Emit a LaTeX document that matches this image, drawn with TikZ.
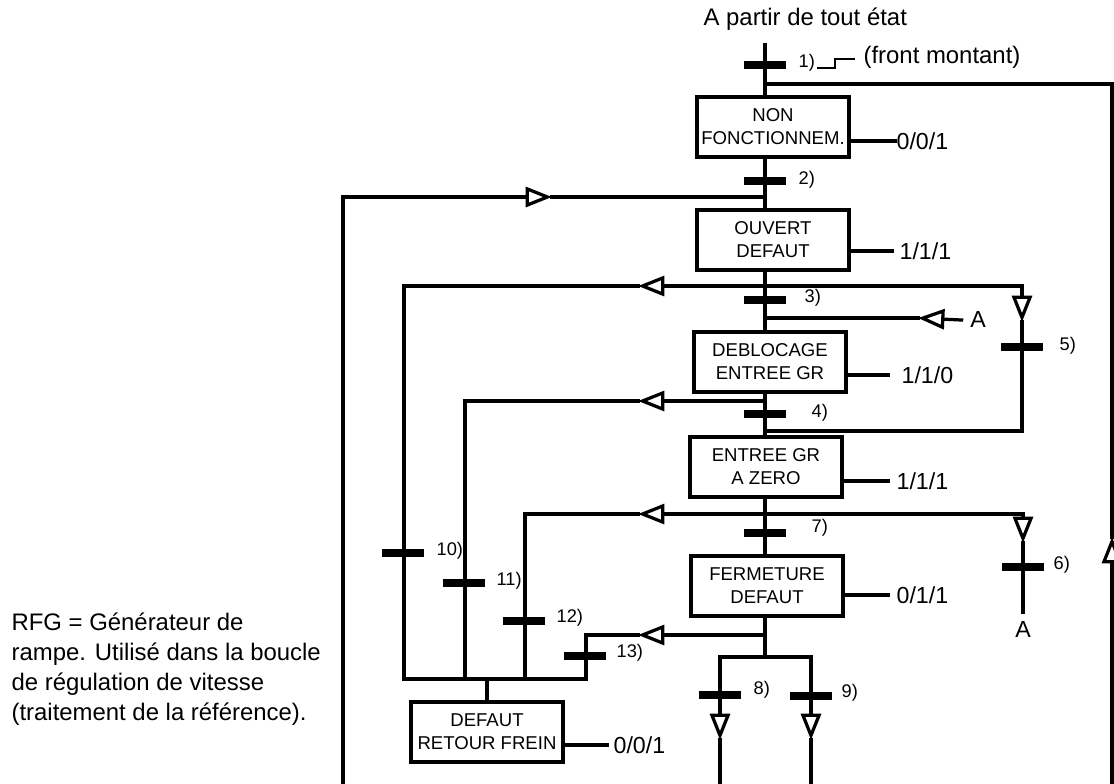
\documentclass[tikz,border=0pt]{standalone}
\usepackage{fontspec}
\setmainfont{Liberation Sans}
\usetikzlibrary{arrows.meta}

\begin{document}
\begin{tikzpicture}[x=0.025cm,y=-0.025cm,line width=2.3pt,line cap=rect,
  box/.style={draw,line width=2.3pt,minimum width=3.8cm,minimum height=1.5cm,align=center,inner sep=0pt,font=\fontsize{13.2}{16.3}\selectfont},
  bar/.style={fill=black,minimum width=1.03cm,minimum height=0.2cm,inner sep=0pt},
  lbl/.style={anchor=west,inner sep=0pt,font=\fontsize{13}{15}\selectfont},
  sortie/.style={anchor=west,inner sep=0pt,font=\fontsize{16.5}{19}\selectfont},
  big/.style={inner sep=0pt,font=\fontsize{17}{21.3}\selectfont},
  flow/.style={-{Triangle[open,length=0.66cm,width=0.5cm]}}]
\useasboundingbox (0,0) rectangle (1114,784);

% etats
\node[box] (nonf) at (773,127) {NON\\FONCTIONNEM.};
\node[box] (ouvert) at (773,240) {OUVERT\\DEFAUT};
\node[box] (debloc) at (770,362) {DEBLOCAGE\\ENTREE GR};
\node[box] (entzero) at (766,467) {ENTREE GR\\A ZERO};
\node[box] (ferm) at (767,586) {FERMETURE\\DEFAUT};
\node[box] (retour) at (487,732) {DEFAUT\\RETOUR FREIN};

% sorties
\node[sortie] (o1) at (895,141) {0/0/1};
\node[sortie] (o2) at (898,251) {1/1/1};
\node[sortie] (o3) at (900,375) {1/1/0};
\node[sortie] (o4) at (895,481) {1/1/1};
\node[sortie] (o5) at (895,595) {0/1/1};
\node[sortie] (o6) at (612,745) {0/0/1};
\draw (nonf.east |- o1.west) -- (o1.west);
\draw (ouvert.east |- o2.west) -- ([xshift=-4pt]o2.west);
\draw (debloc.east |- o3.west) -- ([xshift=-8pt]o3.west);
\draw (entzero.east |- o4.west) -- ([xshift=-5pt]o4.west);
\draw (ferm.east |- o5.west) -- ([xshift=-5pt]o5.west);
\draw (retour.east |- o6.west) -- ([xshift=-3pt]o6.west);

% textes
\node[big,anchor=base west] (debut) at (702,25) {A partir de tout état};
\node[big,anchor=west] (front) at (862,57) {(front montant)};
\draw[line width=0.9pt,line cap=butt] (817,68) -- (835,68) -- (835,59) -- (855,59);
\node[big,anchor=north west,align=left] (rfg) at (10,611) {RFG = Générateur de\\rampe. Utilisé dans la boucle\\de régulation de vitesse\\(traitement de la référence).};
\node[sortie,anchor=center] (a1) at (978,320) {A};
\node[sortie,anchor=center] (a2) at (1023,630) {A};

% axe principal
\coordinate (top) at (765,45);
\coordinate (j1) at (765,84);
\coordinate (j2) at (765,197);
\coordinate (j3) at (765,286);
\coordinate (ja) at (765,318);
\coordinate (j4) at (765,401);
\coordinate (j5) at (765,431);
\coordinate (j6) at (765,514);
\coordinate (j7) at (765,635);
\coordinate (j8) at (765,657);
\coordinate (bus) at (487,679);
\draw (top) -- (top |- nonf.north);
\draw (top |- nonf.south) -- (top |- ouvert.north);
\draw (top |- ouvert.south) -- (top |- debloc.north);
\draw (top |- debloc.south) -- (top |- entzero.north);
\draw (top |- entzero.south) -- (top |- ferm.north);
\draw (top |- ferm.south) -- (j8);

% boucles
\draw[flow] (1112,784) -- (1112,537);
\draw (1112,537) |- (j1);
\draw[flow] (343,784) |- (552,197);
\draw (552,197) -- (j2);
\draw[flow] (j3) -- (638,286);
\draw (638,286) -| (404,679);
\draw[flow] (j3) -| (1022,322);
\draw (1022,322) |- (j5);
\draw[flow] ([xshift=-5pt]a1.west) -- (918,318);
\draw (918,318) -- (ja);
\draw[flow] (j4) -- (638,401);
\draw (638,401) -| (465,679);
\draw[flow] (j6) -- (638,514);
\draw (638,514) -| (525,679);
\draw[flow] (j6) -| (1023,543);
\draw (1023,543) -- ([yshift=6pt]a2.north);
\draw[flow] (j7) -- (638,635);
\draw (638,635) -| (586,679);
\draw (404,679) -- (586,679);
\draw (bus) -- (retour.north);
\draw[flow] (j8) -| (720,740);
\draw (720,740) -- (720,784);
\draw[flow] (j8) -| (811,740);
\draw (811,740) -- (811,784);

% transitions
\node[bar] (t1) at (765,65) {};
\node[bar] (t2) at (765,181) {};
\node[bar] (t3) at (765,300) {};
\node[bar] (t4) at (765,414) {};
\node[bar] (t5) at (1022,347) {};
\node[bar] (t6) at (1023,567) {};
\node[bar] (t7) at (765,533) {};
\node[bar] (t8) at (720,695) {};
\node[bar] (t9) at (811,696) {};
\node[bar] (t10) at (403,553) {};
\node[bar] (t11) at (464,583) {};
\node[bar] (t12) at (524,621) {};
\node[bar] (t13) at (585,656) {};
\node[lbl] (l1) at (797,63) {1)};
\node[lbl] (l2) at (797,180) {2)};
\node[lbl] (l3) at (803,298) {3)};
\node[lbl] (l4) at (810,413) {4)};
\node[lbl] (l5) at (1058,346) {5)};
\node[lbl] (l6) at (1052,565) {6)};
\node[lbl] (l7) at (810,528) {7)};
\node[lbl] (l8) at (752,690) {8)};
\node[lbl] (l9) at (840,693) {9)};
\node[lbl] (l10) at (435,551) {10)};
\node[lbl] (l11) at (495,581) {11)};
\node[lbl] (l12) at (555,618) {12)};
\node[lbl] (l13) at (615,653) {13)};
\end{tikzpicture}
\end{document}
